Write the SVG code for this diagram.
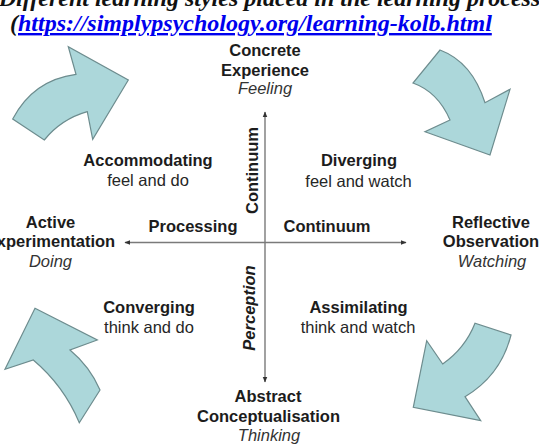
<svg xmlns="http://www.w3.org/2000/svg" width="539" height="444" viewBox="0 0 539 444">
<defs>
<style>
.t{font-family:"Liberation Sans",Arial,sans-serif;font-size:16.5px;text-anchor:middle}
.b{font-weight:bold;fill:#1c1c1c}
.r{fill:#262626}
.i{font-style:italic;fill:#333}
.title{font-family:"Liberation Serif","Times New Roman",serif;font-size:24px;font-weight:bold;font-style:italic}
.arr{fill:#acd7da;stroke:#6d8c8e;stroke-width:1.2;stroke-linejoin:miter}
.axis{stroke:#7a7a7a;stroke-width:1.4;fill:none}
</style>
<marker id="ah" viewBox="0 0 10 10" refX="9" refY="5" markerWidth="6" markerHeight="6" markerUnits="userSpaceOnUse" orient="auto-start-reverse">
<path d="M0,1 L10,5 L0,9 Z" fill="#333"/>
</marker>
</defs>
<rect width="539" height="444" fill="#fff"/>

<g id="title">
<text class="title" x="269.5" y="6" text-anchor="middle" fill="#111">Different learning styles placed in the learning process</text>
<text class="title" x="10" y="31" fill="#111">(<tspan fill="#0000ee" text-decoration="underline">https://simplypsychology.org/learning-kolb.html</tspan></text>
</g>

<g id="cycle-arrows">
<path id="arrow-tl" class="arr" d="M12.7,119 Q33,80 76,74.3 L68.3,46.7 L128.3,80 L92.7,139.3 L87.3,111.7 Q61.4,119 44.3,140 Z"/>
<path id="arrow-tr" class="arr" d="M440,50 Q472,62 485,102.7 L510,89.3 L490,155 L425,131.7 L450,120 Q438,92 413,83 Z"/>
<path id="arrow-br" class="arr" d="M511,335 Q500.8,375.5 465,396.7 L480.7,420.7 L413.3,407.3 L426.7,340.7 L442.7,364 Q465,348.5 475,323.3 Z"/>
<path id="arrow-bl" class="arr" d="M35,308.3 L97.3,340 L70,350 Q89.8,366.4 100,390 L79.3,422.7 Q64,386 33.3,360 L5,369.3 Z"/>
</g>

<g id="connectors">
<line class="axis" x1="265" y1="242.5" x2="265" y2="112" marker-end="url(#ah)"/>
<line class="axis" x1="265" y1="242.5" x2="265" y2="382" marker-end="url(#ah)"/>
<line class="axis" x1="265" y1="242.5" x2="125" y2="242.5" marker-end="url(#ah)"/>
<line class="axis" x1="265" y1="242.5" x2="406" y2="242.5" marker-end="url(#ah)"/>
</g>

<g id="concrete-experience">
<text class="t b" x="265" y="56">Concrete</text>
<text class="t b" x="265" y="75.5">Experience</text>
<text class="t i" x="265" y="94">Feeling</text>
</g>

<g id="reflective-observation">
<text class="t b" x="491" y="227.5">Reflective</text>
<text class="t b" x="491" y="247">Observation</text>
<text class="t i" x="492" y="267">Watching</text>
</g>

<g id="abstract-conceptualisation">
<text class="t b" x="268" y="402">Abstract</text>
<text class="t b" x="268.5" y="422">Conceptualisation</text>
<text class="t i" x="269" y="441">Thinking</text>
</g>

<g id="active-experimentation">
<text class="t b" x="50.5" y="227.5">Active</text>
<text class="t b" x="50.5" y="247">Experimentation</text>
<text class="t i" x="50.5" y="267">Doing</text>
</g>

<g id="accommodating">
<text class="t b" x="148" y="166">Accommodating</text>
<text class="t r" x="148" y="186">feel and do</text>
</g>

<g id="diverging">
<text class="t b" x="359" y="166">Diverging</text>
<text class="t r" x="358.5" y="186.5">feel and watch</text>
</g>

<g id="converging">
<text class="t b" x="149" y="313">Converging</text>
<text class="t r" x="149" y="333">think and do</text>
</g>

<g id="assimilating">
<text class="t b" x="358.5" y="313">Assimilating</text>
<text class="t r" x="358" y="333">think and watch</text>
</g>

<g id="axis-labels">
<text class="t b" x="193" y="231.6">Processing</text>
<text class="t b" x="327" y="231.6">Continuum</text>
<text class="t b" transform="translate(258.3,170.5) rotate(-90)">Continuum</text>
<text class="t b i" style="fill:#1c1c1c" transform="translate(255,308) rotate(-90)">Perception</text>
</g>
</svg>
